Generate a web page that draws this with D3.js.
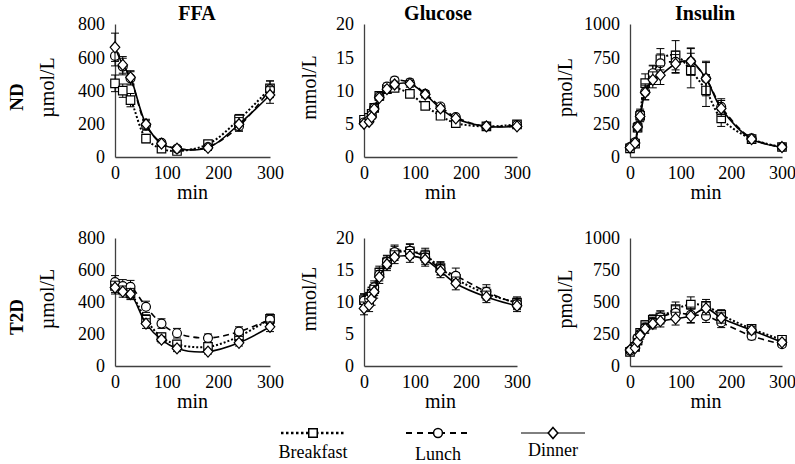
<!DOCTYPE html>
<html>
<head>
<meta charset="utf-8">
<script src="https://cdn.jsdelivr.net/npm/d3@7"></script>
<style>
body { margin: 0; background: #fff; }
svg, svg text { font-family: "Liberation Serif", "Times New Roman", serif !important; fill: #000; }
</style>
</head>
<body>
<script>
// sampling times (min)
var timesFFA = [0, 15, 30, 60, 90, 120, 180, 240, 300];
var timesGI = [0, 10, 15, 20, 30, 45, 60, 90, 120, 150, 180, 240, 300];

var meals = ["Breakfast", "Lunch", "Dinner"];
var metabolites = ["FFA", "Glucose", "Insulin"];
var groups = ["ND", "T2D"];
var units = ["\u00b5mol/L", "mmol/L", "pmol/L"];
var xTicks = [0, 100, 200, 300];
var ffaTicks = [0, 200, 400, 600, 800];
var gluTicks = [0, 5, 10, 15, 20];
var insTicks = [0, 250, 500, 750, 1000];

// FFA, ND
var ffaNDBreakfast = [443, 399, 342, 111, 50, 36, 77, 226, 413];
var ffaNDBreakfastSE = [50, 40, 40, 25, 15, 10, 15, 30, 45];
var ffaNDLunch = [608, 544, 473, 191, 85, 50, 60, 185, 407];
var ffaNDLunchSE = [60, 50, 40, 30, 15, 10, 15, 30, 50];
var ffaNDDinner = [660, 554, 479, 197, 80, 50, 55, 197, 373];
var ffaNDDinnerSE = [85, 50, 40, 30, 15, 10, 15, 40, 50];
// FFA, T2D
var ffaT2DBreakfast = [500, 480, 455, 290, 180, 135, 120, 185, 295];
var ffaT2DBreakfastSE = [40, 35, 35, 30, 25, 25, 25, 30, 30];
var ffaT2DLunch = [525, 500, 495, 370, 265, 205, 175, 215, 290];
var ffaT2DLunchSE = [40, 40, 40, 35, 30, 30, 25, 30, 30];
var ffaT2DDinner = [490, 465, 450, 265, 165, 110, 90, 145, 245];
var ffaT2DDinnerSE = [40, 35, 35, 30, 20, 20, 15, 20, 30];

// Glucose, ND
var gluNDBreakfast = [5.6, 5.9, 6.5, 7.4, 9.2, 10.2, 10.4, 9.5, 7.7, 6.2, 5.1, 4.6, 4.9];
var gluNDBreakfastSE = [0.3, 0.3, 0.3, 0.4, 0.4, 0.5, 0.5, 0.5, 0.4, 0.4, 0.3, 0.2, 0.3];
var gluNDLunch = [5.2, 5.5, 6.3, 7.4, 9.1, 10.6, 11.5, 11.2, 9.5, 7.6, 6.0, 4.6, 4.8];
var gluNDLunchSE = [0.3, 0.3, 0.3, 0.4, 0.4, 0.5, 0.5, 0.5, 0.5, 0.4, 0.3, 0.2, 0.3];
var gluNDDinner = [5.0, 5.3, 6.0, 7.2, 8.9, 10.2, 10.9, 11.0, 9.4, 7.3, 5.8, 4.6, 4.6];
var gluNDDinnerSE = [0.3, 0.3, 0.3, 0.4, 0.4, 0.5, 0.5, 0.5, 0.5, 0.4, 0.3, 0.2, 0.3];
// Glucose, T2D
var gluT2DBreakfast = [10.3, 10.4, 11.3, 12.0, 14.6, 16.2, 17.6, 17.9, 17.3, 15.3, 13.6, 11.3, 9.9];
var gluT2DBreakfastSE = [1.0, 1.0, 1.0, 1.0, 1.0, 1.0, 1.1, 1.1, 1.1, 1.0, 1.0, 1.0, 0.9];
var gluT2DLunch = [10.2, 10.5, 11.3, 12.3, 14.3, 16.3, 17.8, 18.0, 17.0, 15.2, 14.1, 11.6, 9.7];
var gluT2DLunchSE = [1.0, 1.0, 1.0, 1.0, 1.0, 1.0, 1.1, 1.1, 1.1, 1.0, 1.2, 1.1, 0.9];
var gluT2DDinner = [9.0, 9.5, 10.5, 11.6, 13.9, 15.9, 17.0, 17.2, 16.6, 14.8, 12.9, 10.8, 9.4];
var gluT2DDinnerSE = [1.0, 1.0, 1.0, 1.0, 1.0, 1.0, 1.0, 1.0, 1.0, 1.0, 1.0, 0.9, 0.9];

// Insulin, ND
var insNDBreakfast = [65, 100, 220, 310, 555, 615, 735, 765, 650, 500, 290, 135, 75];
var insNDBreakfastSE = [10, 15, 30, 40, 70, 70, 80, 110, 130, 120, 60, 20, 10];
var insNDLunch = [75, 110, 230, 320, 490, 630, 705, 715, 715, 590, 378, 140, 75];
var insNDLunchSE = [10, 15, 30, 40, 60, 60, 70, 80, 100, 130, 60, 20, 10];
var insNDDinner = [70, 105, 225, 305, 485, 580, 615, 700, 720, 590, 365, 135, 75];
var insNDDinnerSE = [10, 15, 30, 40, 55, 60, 70, 70, 100, 120, 60, 20, 10];
// Insulin, T2D
var insT2DBreakfast = [110, 150, 200, 260, 320, 360, 380, 445, 480, 470, 400, 290, 205];
var insT2DBreakfastSE = [20, 20, 25, 30, 35, 40, 50, 55, 60, 50, 40, 30, 20];
var insT2DLunch = [120, 150, 220, 250, 300, 340, 380, 415, 400, 390, 340, 235, 170];
var insT2DLunchSE = [20, 20, 25, 30, 35, 40, 50, 55, 60, 50, 40, 30, 20];
var insT2DDinner = [125, 140, 190, 240, 290, 330, 350, 370, 390, 450, 375, 280, 185];
var insT2DDinnerSE = [20, 20, 25, 30, 35, 40, 45, 50, 55, 50, 40, 30, 20];

var width = 795, height = 464;
var serif = "Liberation Serif, Times New Roman, serif";

// panel frame positions
var colLeft = [115, 364, 630], colRight = [270, 517, 782];
var rowTop = [24, 238], rowBottom = [157, 366];
var titleX = [197, 438, 705];
var unitX = [54, 316, 572];
var groupY = [97, 317];

var svg = d3.select("body")
    .append("svg")
    .attr("width", width)
    .attr("height", height)
    .attr("font-family", serif);

// marker shapes and line styles for each meal
var styles = [
    {dash: "2,2", width: 2, shape: "square"},
    {dash: "6,4", width: 1.6, shape: "circle"},
    {dash: null, width: 1.6, shape: "diamond"}
];

function markerPath(shape){
    if (shape == "square") return d3.symbol().type(d3.symbolSquare).size(72)();
    if (shape == "circle") return d3.symbol().type(d3.symbolCircle).size(62)();
    return "M0,-5.5L4.8,0L0,5.5L-4.8,0Z";
}

var panels = [
    {row: 0, col: 0, times: timesFFA, ticks: ffaTicks,
        means: [ffaNDBreakfast, ffaNDLunch, ffaNDDinner], ses: [ffaNDBreakfastSE, ffaNDLunchSE, ffaNDDinnerSE]},
    {row: 0, col: 1, times: timesGI, ticks: gluTicks,
        means: [gluNDBreakfast, gluNDLunch, gluNDDinner], ses: [gluNDBreakfastSE, gluNDLunchSE, gluNDDinnerSE]},
    {row: 0, col: 2, times: timesGI, ticks: insTicks,
        means: [insNDBreakfast, insNDLunch, insNDDinner], ses: [insNDBreakfastSE, insNDLunchSE, insNDDinnerSE]},
    {row: 1, col: 0, times: timesFFA, ticks: ffaTicks,
        means: [ffaT2DBreakfast, ffaT2DLunch, ffaT2DDinner], ses: [ffaT2DBreakfastSE, ffaT2DLunchSE, ffaT2DDinnerSE]},
    {row: 1, col: 1, times: timesGI, ticks: gluTicks,
        means: [gluT2DBreakfast, gluT2DLunch, gluT2DDinner], ses: [gluT2DBreakfastSE, gluT2DLunchSE, gluT2DDinnerSE]},
    {row: 1, col: 2, times: timesGI, ticks: insTicks,
        means: [insT2DBreakfast, insT2DLunch, insT2DDinner], ses: [insT2DBreakfastSE, insT2DLunchSE, insT2DDinnerSE]}
];

panels.forEach(drawPanel);

function drawPanel(p){
    var x = d3.scaleLinear().domain([0, 300]).range([colLeft[p.col], colRight[p.col]]);
    var y = d3.scaleLinear().domain([0, d3.max(p.ticks)]).range([rowBottom[p.row], rowTop[p.row]]);

    var g = svg.append("g");

    // axes: plain lines, no tick marks (excel look)
    g.append("g")
        .attr("transform", "translate(" + colLeft[p.col] + ",0)")
        .call(d3.axisLeft(y).tickValues(p.ticks).tickFormat(d3.format("d")).tickSize(0).tickSizeOuter(0).tickPadding(10))
        .attr("font-family", serif)
        .attr("font-size", 18);
    g.append("g")
        .attr("transform", "translate(0," + rowBottom[p.row] + ")")
        .call(d3.axisBottom(x).tickValues(xTicks).tickFormat(d3.format("d")).tickSize(0).tickSizeOuter(0).tickPadding(9))
        .attr("font-family", serif)
        .attr("font-size", 18);
    g.selectAll(".domain").attr("stroke", "#404040").attr("stroke-width", 1.3);
    g.selectAll(".tick text").attr("fill", "#000");

    // x axis title
    g.append("text")
        .attr("x", (colLeft[p.col] + colRight[p.col]) / 2)
        .attr("y", rowBottom[p.row] + 42)
        .attr("text-anchor", "middle")
        .attr("font-size", 20)
        .text("min");

    // y axis title
    g.append("text")
        .attr("transform", "translate(" + unitX[p.col] + "," + ((rowTop[p.row] + rowBottom[p.row]) / 2 - 3) + ") rotate(-90)")
        .attr("text-anchor", "middle")
        .attr("font-size", 20)
        .text(units[p.col]);

    var line = d3.line()
        .x(function(d){ return x(d[0]); })
        .y(function(d){ return y(d[1]); })
        .curve(d3.curveCatmullRom);

    p.means.forEach(function(vals, s){
        var pts = vals.map(function(v, i){ return [p.times[i], v, p.ses[s][i]]; });
        var st = styles[s];

        //error bars
        var eb = g.append("g").attr("stroke", "#000").attr("stroke-width", 1);
        pts.forEach(function(d){
            var cx = x(d[0]);
            eb.append("line").attr("x1", cx).attr("x2", cx).attr("y1", y(d[1] - d[2])).attr("y2", y(d[1] + d[2]));
            eb.append("line").attr("x1", cx - 4).attr("x2", cx + 4).attr("y1", y(d[1] + d[2])).attr("y2", y(d[1] + d[2]));
            eb.append("line").attr("x1", cx - 4).attr("x2", cx + 4).attr("y1", y(d[1] - d[2])).attr("y2", y(d[1] - d[2]));
        });

        g.append("path")
            .datum(pts)
            .attr("d", line)
            .attr("fill", "none")
            .attr("stroke", "#000")
            .attr("stroke-width", st.width)
            .attr("stroke-dasharray", st.dash);

        g.selectAll(".m" + s)
            .data(pts)
            .enter()
            .append("path")
            .attr("class", "m" + s)
            .attr("transform", function(d){ return "translate(" + x(d[0]) + "," + y(d[1]) + ")"; })
            .attr("d", markerPath(st.shape))
            .attr("fill", "#fff")
            .attr("stroke", "#000")
            .attr("stroke-width", 1.2);
    });
}

// column titles
svg.selectAll(".coltitle")
    .data(metabolites)
    .enter()
    .append("text")
    .attr("class", "coltitle")
    .attr("x", function(d, i){ return titleX[i]; })
    .attr("y", 20)
    .attr("text-anchor", "middle")
    .attr("font-weight", "bold")
    .attr("font-size", 20)
    .text(function(d){ return d; });

// row labels
svg.selectAll(".rowlabel")
    .data(groups)
    .enter()
    .append("text")
    .attr("class", "rowlabel")
    .attr("transform", function(d, i){ return "translate(23," + groupY[i] + ") rotate(-90)"; })
    .attr("text-anchor", "middle")
    .attr("font-weight", "bold")
    .attr("font-size", 19)
    .text(function(d){ return d; });

// legend
var legendX = [313, 438, 553];
var legendBase = [458, 460, 456];
var legendLineW = [2.6, 2.2, 1];
var legend = svg.selectAll(".legend")
    .data(meals)
    .enter()
    .append("g")
    .attr("class", "legend")
    .attr("transform", function(d, i){ return "translate(" + legendX[i] + ",0)"; });

legend.append("line")
    .attr("x1", -32).attr("x2", 32)
    .attr("y1", 433).attr("y2", 433)
    .attr("stroke", "#000")
    .attr("stroke-width", function(d, i){ return legendLineW[i]; })
    .attr("stroke-dasharray", function(d, i){ return i == 0 ? "2.5,2.5" : (i == 1 ? "6,5" : null); });

legend.append("path")
    .attr("transform", "translate(0,433)")
    .attr("d", function(d, i){ return markerPath(styles[i].shape); })
    .attr("fill", "#fff")
    .attr("stroke", "#000")
    .attr("stroke-width", 1.5);

legend.append("text")
    .attr("y", function(d, i){ return legendBase[i]; })
    .attr("text-anchor", "middle")
    .attr("font-size", 18)
    .text(function(d){ return d; });
</script>
</body>
</html>
